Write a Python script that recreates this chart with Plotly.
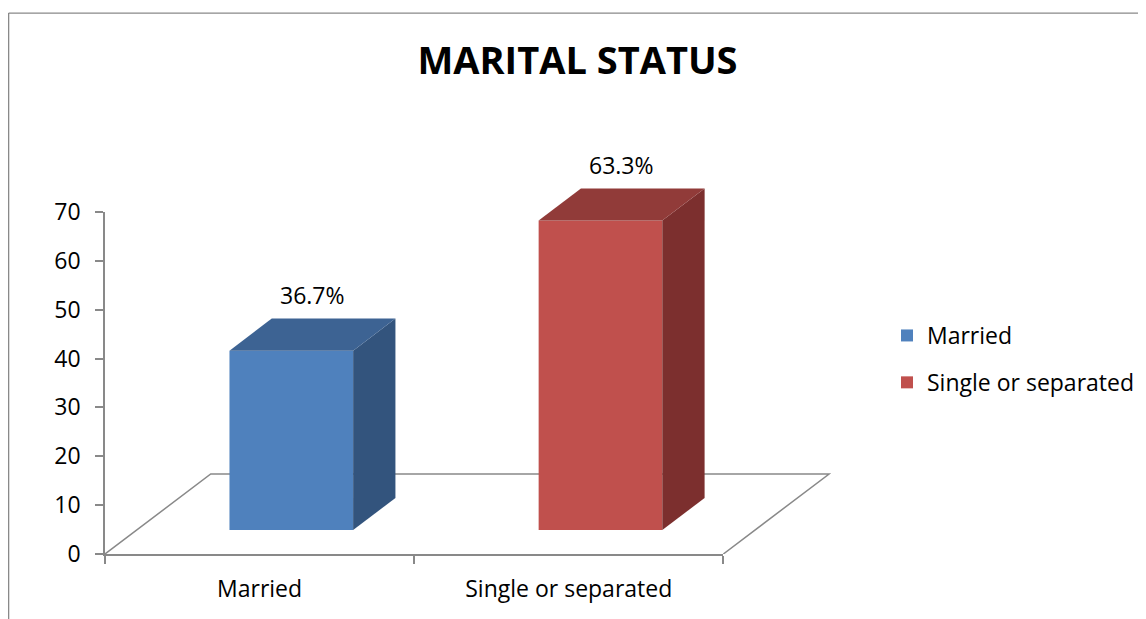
import plotly.graph_objects as go

# ---------------- data ----------------
categories = ["Married", "Single or separated"]
values = [36.7, 63.3]
value_labels = ["36.7%", "63.3%"]
y_ticks = [0, 10, 20, 30, 40, 50, 60, 70]

# ---------------- style ----------------
front_colors = ["#4F81BD", "#C0504D"]
top_colors = ["#3D6393", "#913B39"]
side_colors = ["#33547D", "#7C2F2E"]
axis_color = "#898989"
FONT = "Open Sans"

OFF = 8                          # page body margin
W, H = 1146 - OFF, 619 - OFF
# plot-area edges in reference pixels
L_REF, R_REF, T_REF, B_REF = 105, 846.6, 163, 554.3
L, R_EDGE, T, B = L_REF - OFF, R_REF - OFF, T_REF - OFF, B_REF - OFF
PW, PH = R_EDGE - L, B - T

XMAX2 = 1.9                      # extended x range for 3-D decorations
YMAX2 = 80                       # extended y range for 3-D decorations
DEPTH_X = 0.342                  # floor depth in category units
DEPTH_Y = 16.37                  # floor depth in value units
F0, F1 = 0.3, 0.7                # bar front/back depth fractions
BAR_W = 0.4

def px_to_paper_x(px):           # px in reference coordinates
    return (px - OFF - L) / PW

def px_to_paper_y(py):
    return (B - (py - OFF)) / PH

fig = go.Figure()

# invisible trace to create the main (axes) subplot
fig.add_trace(go.Scatter(x=[None], y=[None], xaxis="x", yaxis="y",
                         showlegend=False, hoverinfo="skip"))

# floor outline (left, back, right edges) drawn beneath the bars
x_left, x_right = -0.5, len(categories) - 0.5
floor_pts = [(x_left, 0), (x_left + DEPTH_X, DEPTH_Y),
             (x_right + DEPTH_X, DEPTH_Y), (x_right, 0)]
floor_path = "M " + " L ".join(f"{px},{py}" for px, py in floor_pts)
fig.add_shape(type="path", path=floor_path, xref="x2", yref="y2", layer="below",
              line=dict(color=axis_color, width=1.5))

d_x = (F1 - F0) * DEPTH_X
d_y = (F1 - F0) * DEPTH_Y
for i, (cat, v) in enumerate(zip(categories, values)):
    xc = i + F0 * DEPTH_X
    xl, xr = xc - BAR_W / 2, xc + BAR_W / 2
    yb = F0 * DEPTH_Y
    yt = yb + v
    # side face
    fig.add_trace(go.Scatter(
        x=[xr, xr, xr + d_x, xr + d_x, xr], y=[yb, yt, yt + d_y, yb + d_y, yb],
        xaxis="x2", yaxis="y2", mode="lines", fill="toself",
        fillcolor=side_colors[i], line=dict(width=0, color=side_colors[i]),
        showlegend=False, hoverinfo="skip"))
    # top face
    fig.add_trace(go.Scatter(
        x=[xl, xr, xr + d_x, xl + d_x, xl], y=[yt, yt, yt + d_y, yt + d_y, yt],
        xaxis="x2", yaxis="y2", mode="lines", fill="toself",
        fillcolor=top_colors[i], line=dict(width=0, color=top_colors[i]),
        showlegend=False, hoverinfo="skip"))
    # front face
    fig.add_trace(go.Bar(
        x=[xc], y=[v], base=[yb], width=[BAR_W], name=cat,
        xaxis="x2", yaxis="y2", marker=dict(color=front_colors[i], line=dict(width=0)),
        legendgroup=cat, showlegend=True))
    fig.add_annotation(x=i + DEPTH_X * (F0 + F1) / 2, y=yt + d_y, xref="x2", yref="y2",
                       text=value_labels[i], showarrow=False, yanchor="bottom", yshift=6,
                       font=dict(family=FONT, size=23, color="#000000"))

# chart frame
FRAME_L = OFF + 0.7
fig.add_shape(type="line", xref="paper", yref="paper",
              x0=px_to_paper_x(FRAME_L), y0=px_to_paper_y(640),
              x1=px_to_paper_x(FRAME_L), y1=px_to_paper_y(13),
              line=dict(color=axis_color, width=1.3))
fig.add_shape(type="line", xref="paper", yref="paper",
              x0=px_to_paper_x(FRAME_L), y0=px_to_paper_y(13),
              x1=px_to_paper_x(1160), y1=px_to_paper_y(13),
              line=dict(color=axis_color, width=1.3))

fig.update_layout(
    width=W, height=H,
    margin=dict(l=L, r=W - R_EDGE, t=T, b=H - B, pad=0, autoexpand=False),
    paper_bgcolor="white", plot_bgcolor="rgba(0,0,0,0)",
    barmode="overlay",
    title=dict(text="<b>MARITAL STATUS</b>", x=(577.5 - OFF) / W, xref="container", xanchor="center",
               y=1 - (61 - OFF) / H, yref="container", yanchor="middle",
               font=dict(family=FONT, size=38, color="#000000")),
    xaxis=dict(domain=[0, 2 / (XMAX2 + 0.5)], range=[-0.5, 1.5], anchor="y",
               tickvals=[0, 1], ticktext=categories, ticks="",
               showline=True, linecolor=axis_color, linewidth=1.5,
               showgrid=False, zeroline=False, ticklabelstandoff=14,
               tickfont=dict(family=FONT, size=23, color="#000000"),
               minor=dict(tickvals=[-0.5, 0.5, 1.5], ticks="outside", ticklen=8,
                          tickcolor=axis_color, tickwidth=1.5, showgrid=False),
               fixedrange=True),
    yaxis=dict(domain=[0, 70 / YMAX2], range=[0, 70], anchor="x",
               tickvals=y_ticks, ticks="outside", ticklen=8,
               tickcolor=axis_color, tickwidth=1.5,
               showline=True, linecolor=axis_color, linewidth=1.5,
               showgrid=False, zeroline=False, ticklabelstandoff=10,
               tickfont=dict(family=FONT, size=23, color="#000000"),
               fixedrange=True),
    xaxis2=dict(domain=[0, 1], range=[-0.5, XMAX2], anchor="y2", visible=False,
                fixedrange=True),
    yaxis2=dict(domain=[0, 1], range=[0, YMAX2], anchor="x2", visible=False,
                fixedrange=True),
    legend=dict(x=(887 - OFF) / W, y=1 - (314 - OFF) / H, xref="container", yref="container",
                xanchor="left", yanchor="top",
                traceorder="grouped", tracegroupgap=14,
                font=dict(family=FONT, size=23, color="#000000"),
                bgcolor="rgba(0,0,0,0)"),
    showlegend=True,
)

fig.write_html("out.html")
